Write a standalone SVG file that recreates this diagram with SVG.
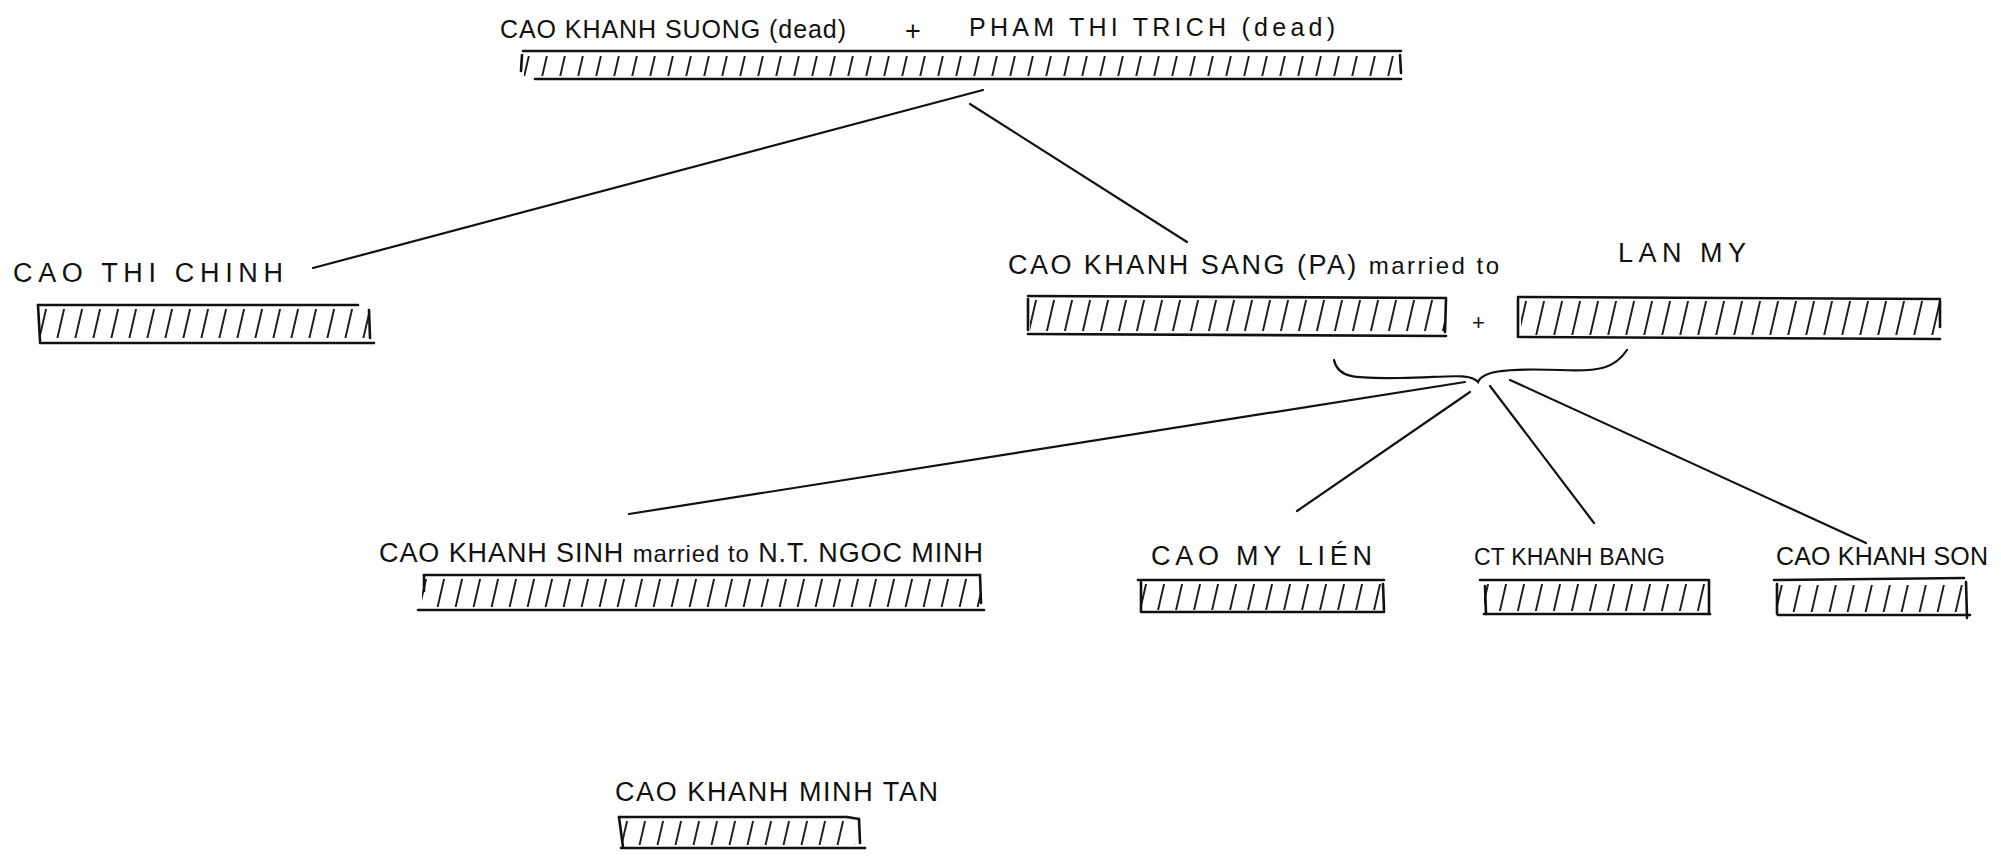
<svg xmlns="http://www.w3.org/2000/svg" width="2001" height="858" viewBox="0 0 2001 858">
<style>
text{font-family:"Liberation Sans","DejaVu Sans",sans-serif;font-size:27px;fill:#111}
.lc{font-size:24px}
.edge{stroke:#111;stroke-width:2.2;fill:none;stroke-linecap:round}
.bl{stroke:#111;stroke-width:2.6;fill:none;stroke-linecap:round}
.hatch{fill:url(#h);stroke:none}
</style>
<defs>
<pattern id="h" patternUnits="userSpaceOnUse" width="18" height="10" patternTransform="skewX(-13)">
<line x1="9" y1="-1" x2="9" y2="11" stroke="#111" stroke-width="1.9"/>
</pattern>
</defs>
<rect width="2001" height="858" fill="#fff"/>

<g id="connectors">
<line class="edge" x1="983" y1="90" x2="313" y2="268"/>
<line class="edge" x1="970" y1="104" x2="1187" y2="242"/>
<path class="edge" d="M1334 360 C1338 380 1360 378 1400 378 C1440 378 1470 372 1478 382 C1482 372 1500 368 1560 370 C1600 372 1615 368 1627 350"/>
<line class="edge" x1="1465" y1="382" x2="629" y2="514"/>
<line class="edge" x1="1470" y1="392" x2="1297" y2="511"/>
<line class="edge" x1="1490" y1="386" x2="1594" y2="523"/>
<line class="edge" x1="1510" y1="380" x2="1866" y2="543"/>
</g>

<g id="n-parents">
<text x="500" y="38" style="font-size:25px" textLength="346" lengthAdjust="spacing">CAO KHANH SUONG (dead)</text>
<text x="905" y="40">+</text>
<text x="969" y="36" style="font-size:25px" textLength="366" lengthAdjust="spacing">PHAM THI TRICH (dead)</text>
<g transform="translate(521,51)">
<rect class="hatch" x="3" y="5" width="874" height="20"/>
<line class="bl" x1="2" y1="0" x2="880" y2="0"/>
<line class="bl" x1="14" y1="28" x2="880" y2="28"/>
<line class="bl" x1="1" y1="4" x2="0" y2="20"/>
<line class="bl" x1="879" y1="4" x2="880" y2="22"/>
</g>
</g>

<g id="n-chinh">
<text x="13" y="282" textLength="270" lengthAdjust="spacing">CAO THI CHINH</text>
<g transform="translate(38,305)">
<rect class="hatch" x="2" y="4" width="328" height="29"/>
<line class="bl" x1="0" y1="0" x2="320" y2="0"/>
<line class="bl" x1="2" y1="38" x2="336" y2="38"/>
<line class="bl" x1="0" y1="0" x2="2" y2="36"/>
<line class="bl" x1="331" y1="5" x2="332" y2="33"/>
</g>
</g>

<g id="n-sang">
<text x="1008" y="274" textLength="491" lengthAdjust="spacing">CAO KHANH SANG (PA) <tspan class="lc">married to</tspan></text>
<g transform="translate(1028,296)">
<rect class="hatch" x="2" y="4" width="414" height="31"/>
<line class="bl" x1="0" y1="0" x2="418" y2="2"/>
<line class="bl" x1="0" y1="38" x2="418" y2="40"/>
<line class="bl" x1="0" y1="3" x2="0" y2="34"/>
<line class="bl" x1="418" y1="3" x2="417" y2="36"/>
</g>
<text x="1472" y="330" style="font-size:22px">+</text>
</g>

<g id="n-lanmy">
<text x="1618" y="262" textLength="128" lengthAdjust="spacing">LAN MY</text>
<g transform="translate(1518,297)">
<rect class="hatch" x="3" y="4" width="418" height="34"/>
<line class="bl" x1="0" y1="0" x2="422" y2="2"/>
<line class="bl" x1="2" y1="40" x2="422" y2="42"/>
<line class="bl" x1="0" y1="2" x2="0" y2="40"/>
<line class="bl" x1="422" y1="4" x2="422" y2="30"/>
</g>
</g>

<g id="n-sinh">
<text x="379" y="562" textLength="604" lengthAdjust="spacing">CAO KHANH SINH <tspan class="lc">married to</tspan> N.T. NGOC MINH</text>
<g transform="translate(418,575)">
<rect class="hatch" x="4" y="4" width="558" height="28"/>
<line class="bl" x1="6" y1="0" x2="562" y2="0"/>
<line class="bl" x1="0" y1="35" x2="566" y2="35"/>
<line class="bl" x1="6" y1="0" x2="6" y2="16"/>
<line class="bl" x1="562" y1="0" x2="563" y2="28"/>
</g>
</g>

<g id="n-lien">
<text x="1151" y="565" textLength="221" lengthAdjust="spacing">CAO MY LIÉN</text>
<g transform="translate(1138,580)">
<rect class="hatch" x="3" y="4" width="242" height="26"/>
<line class="bl" x1="0" y1="0" x2="246" y2="0"/>
<line class="bl" x1="4" y1="32" x2="246" y2="32"/>
<line class="bl" x1="3" y1="2" x2="3" y2="32"/>
<line class="bl" x1="245" y1="4" x2="246" y2="30"/>
</g>
</g>

<g id="n-bang">
<text x="1474" y="565" style="font-size:23px" textLength="191" lengthAdjust="spacing">CT KHANH BANG</text>
<g transform="translate(1480,580)">
<rect class="hatch" x="4" y="4" width="222" height="27"/>
<line class="bl" x1="0" y1="0" x2="228" y2="0"/>
<line class="bl" x1="4" y1="34" x2="230" y2="34"/>
<line class="bl" x1="5" y1="6" x2="6" y2="34"/>
<line class="bl" x1="229" y1="0" x2="229" y2="34"/>
</g>
</g>

<g id="n-son">
<text x="1776" y="565" style="font-size:25px" textLength="212" lengthAdjust="spacing">CAO KHANH SON</text>
<g transform="translate(1774,580)">
<rect class="hatch" x="4" y="5" width="188" height="27"/>
<line class="bl" x1="0" y1="0" x2="190" y2="-2"/>
<line class="bl" x1="4" y1="35" x2="196" y2="35"/>
<line class="bl" x1="3" y1="4" x2="3" y2="34"/>
<line class="bl" x1="192" y1="2" x2="193" y2="38"/>
</g>
</g>

<g id="n-tan">
<text x="615" y="801" textLength="323" lengthAdjust="spacing">CAO KHANH MINH TAN</text>
<g transform="translate(619,817)">
<rect class="hatch" x="4" y="4" width="232" height="24"/>
<line class="bl" x1="0" y1="0" x2="228" y2="0"/>
<line class="bl" x1="2" y1="31" x2="246" y2="31"/>
<line class="bl" x1="0" y1="0" x2="4" y2="30"/>
<line class="bl" x1="228" y1="0" x2="240" y2="2"/>
<line class="bl" x1="240" y1="2" x2="241" y2="26"/>
</g>
</g>
</svg>
